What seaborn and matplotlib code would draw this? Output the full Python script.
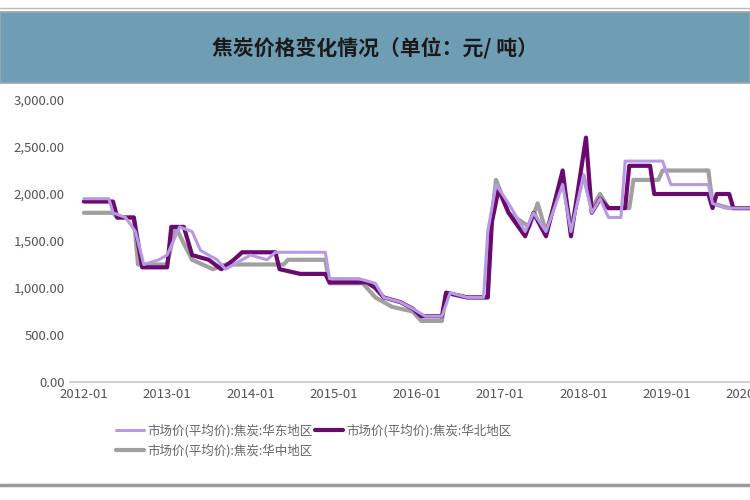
import matplotlib
matplotlib.use("Agg")
import matplotlib.pyplot as plt
import seaborn as sns
import pandas as pd

# data (x in decimal years)
east_t = [2012.0, 2012.3, 2012.35, 2012.5, 2012.62, 2012.72, 2012.9, 2013.0, 2013.05, 2013.15, 2013.3, 2013.4,
          2013.6, 2013.7, 2013.9, 2014.0, 2014.2, 2014.3, 2014.9, 2014.95, 2015.3, 2015.5, 2015.6, 2015.8,
          2015.95, 2016.1, 2016.3, 2016.4, 2016.6, 2016.8, 2016.85, 2016.95, 2017.1, 2017.3, 2017.4, 2017.55,
          2017.75, 2017.85, 2018.0, 2018.1, 2018.2, 2018.3, 2018.45, 2018.5, 2018.95, 2019.05, 2019.5, 2019.55,
          2019.7, 2020.2]
east_v = [1950, 1950, 1800, 1750, 1600, 1250, 1300, 1350, 1450, 1650, 1600, 1400,
          1300, 1200, 1300, 1350, 1300, 1380, 1380, 1100, 1100, 1050, 900, 850,
          780, 700, 700, 950, 900, 900, 1600, 2100, 1900, 1600, 1800, 1600,
          2100, 1600, 2200, 1800, 1950, 1750, 1750, 2350, 2350, 2100, 2100, 1900,
          1850, 1850]

north_t = [2012.0, 2012.35, 2012.4, 2012.6, 2012.7, 2013.0, 2013.05, 2013.2, 2013.3, 2013.5, 2013.65, 2013.8,
           2013.9, 2014.3, 2014.35, 2014.6, 2014.9, 2014.95, 2015.4, 2015.5, 2015.6, 2015.8, 2015.95, 2016.05,
           2016.3, 2016.35, 2016.6, 2016.85, 2016.9, 2016.98, 2017.1, 2017.3, 2017.4, 2017.55, 2017.75, 2017.85,
           2018.03, 2018.1, 2018.2, 2018.3, 2018.5, 2018.55, 2018.8, 2018.85, 2019.5, 2019.55, 2019.6, 2019.75,
           2019.8, 2020.2]
north_v = [1920, 1920, 1750, 1750, 1220, 1220, 1650, 1650, 1350, 1300, 1200, 1300,
           1380, 1380, 1200, 1150, 1150, 1060, 1060, 1000, 900, 850, 780, 700,
           700, 950, 900, 900, 1700, 2050, 1800, 1550, 1800, 1550, 2250, 1550,
           2600, 1800, 1950, 1850, 1850, 2300, 2300, 2000, 2000, 1850, 2000, 2000,
           1850, 1850]

central_t = [2012.0, 2012.35, 2012.4, 2012.6, 2012.65, 2013.0, 2013.1, 2013.3, 2013.55, 2013.7, 2014.4, 2014.45,
             2014.9, 2014.95, 2015.35, 2015.5, 2015.7, 2015.95, 2016.05, 2016.3, 2016.35, 2016.6, 2016.85, 2016.88,
             2016.95, 2017.1, 2017.35, 2017.45, 2017.55, 2017.75, 2017.85, 2018.0, 2018.1, 2018.2, 2018.3, 2018.55,
             2018.6, 2018.9, 2018.95, 2019.5, 2019.55, 2019.75, 2020.2]
central_v = [1800, 1800, 1750, 1750, 1250, 1250, 1650, 1300, 1200, 1250, 1250, 1300,
             1300, 1050, 1050, 900, 800, 750, 650, 650, 950, 900, 900, 1600,
             2150, 1800, 1650, 1900, 1600, 2150, 1650, 2200, 1850, 2000, 1850, 1850,
             2150, 2150, 2250, 2250, 1900, 1850, 1850]

labels = ["市场价(平均价):焦炭:华东地区", "市场价(平均价):焦炭:华北地区", "市场价(平均价):焦炭:华中地区"]
year_ticks = [2012, 2013, 2014, 2015, 2016, 2017, 2018, 2019, 2020]
year_labels = ["2012-01", "2013-01", "2014-01", "2015-01", "2016-01", "2017-01", "2018-01", "2019-01", "2020-01"]
y_ticks = [0, 500, 1000, 1500, 2000, 2500, 3000]

sns.set_theme(style="white")
plt.rcParams["font.family"] = ["Noto Sans CJK SC", "DejaVu Sans"]

fig = plt.figure(figsize=(7.5, 5), dpi=100)

# title band
band = fig.add_axes([0, 0.834, 1, 0.142])
band.set_facecolor("#6f9db3")
band.set_xticks([]); band.set_yticks([])
for s in band.spines.values():
    s.set_color("#9aa8b0")
band.text(0.5, 0.5, "焦炭价格变化情况（单位：元/ 吨）", ha="center", va="center",
          fontsize=15, fontweight="bold", color="#1a1a1a")

ax = fig.add_axes([70 / 750, 0.236, 680 / 750, 0.564])
df = pd.concat([
    pd.DataFrame({"t": central_t, "v": central_v, "s": labels[2]}),
    pd.DataFrame({"t": north_t, "v": north_v, "s": labels[1]}),
    pd.DataFrame({"t": east_t, "v": east_v, "s": labels[0]}),
])
styles = {labels[2]: ("#a0a0a0", 3.0), labels[1]: ("#6a0a6e", 3.0), labels[0]: ("#b79ae6", 2.2)}
for name in [labels[2], labels[1], labels[0]]:
    sub = df[df["s"] == name]
    sns.lineplot(data=sub, x="t", y="v", sort=False, estimator=None, ax=ax,
                 color=styles[name][0], lw=styles[name][1], label=name, legend=False)

ax.set_xlim(2012 - 14 / 84, 2012 - 14 / 84 + 680 / 84)
ax.set_ylim(0, 3000)
ax.set_xticks(year_ticks)
ax.set_xticklabels(year_labels)
ax.set_yticks(y_ticks)
ax.set_yticklabels([f"{v:,.2f}" for v in y_ticks])
ax.tick_params(colors="#555555", labelsize=9.5, length=0, pad=4)
ax.set_xlabel(""); ax.set_ylabel("")
for k in ["top", "right", "left"]:
    ax.spines[k].set_visible(False)
ax.spines["bottom"].set_color("#cccccc")

handles, _ = ax.get_legend_handles_labels()
hmap = dict(zip([labels[2], labels[1], labels[0]], handles))
# column-first fill: east & central in column 1, north in column 2
order = [labels[0], labels[2], labels[1]]
fig.legend([hmap[n] for n in order], order, ncol=2,
           loc="upper left", bbox_to_anchor=(0.14, 0.175), frameon=False,
           fontsize=9, labelcolor="#666666", handlelength=2.2, columnspacing=0.2,
           handletextpad=0.3, labelspacing=0.5)

# frame lines
fig.add_artist(plt.Line2D([0, 1], [0.985, 0.985], color="#bbbbbb", lw=1))
fig.add_artist(plt.Line2D([0, 1], [0.03, 0.03], color="#999999", lw=2.5))

fig.savefig("out.png", dpi=100)
